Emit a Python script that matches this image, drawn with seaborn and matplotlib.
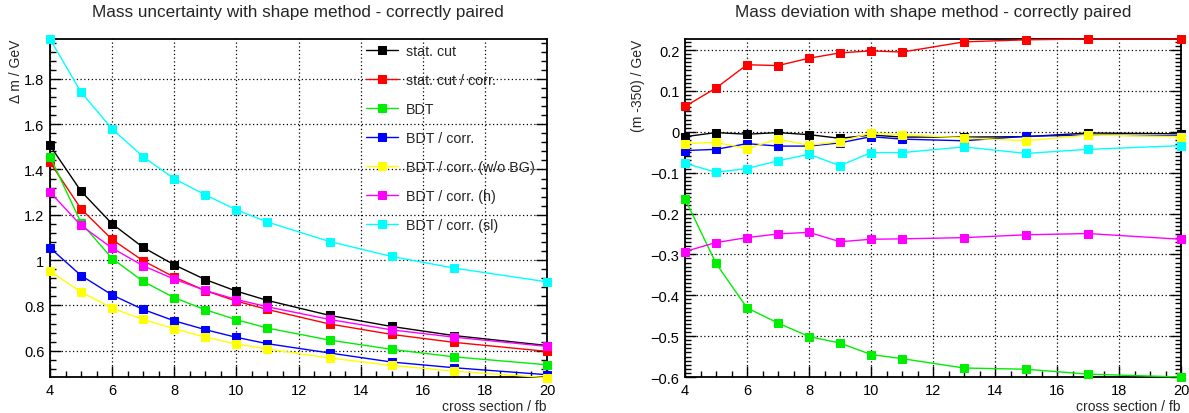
import matplotlib
matplotlib.use("Agg")
import matplotlib.pyplot as plt
import seaborn as sns
import numpy as np
from matplotlib.ticker import MultipleLocator, FuncFormatter

sns.set_style("ticks")
plt.rcParams['font.family'] = ['Liberation Sans', 'DejaVu Sans']

cross_section = [4, 5, 6, 7, 8, 9, 10, 11, 13, 15, 17, 20]

labels = ["stat. cut", "stat. cut / corr.", "BDT", "BDT / corr.",
          "BDT / corr. (w/o BG)", "BDT / corr. (h)", "BDT / corr. (sl)"]
colors = ["#000000", "#ff0000", "#00ee00", "#0000ff", "#ffff00", "#ff00ff", "#00ffff"]

# Mass uncertainty (left)
unc_statcut = [1.506, 1.304, 1.160, 1.056, 0.979, 0.914, 0.863, 0.822, 0.756, 0.707, 0.667, 0.623]
unc_statcut_corr = [1.432, 1.226, 1.091, 0.997, 0.925, 0.865, 0.819, 0.782, 0.718, 0.672, 0.637, 0.597]
unc_bdt = [1.457, 1.165, 1.007, 0.906, 0.834, 0.781, 0.737, 0.700, 0.647, 0.606, 0.573, 0.538]
unc_bdt_corr = [1.054, 0.932, 0.846, 0.782, 0.732, 0.693, 0.659, 0.631, 0.590, 0.550, 0.525, 0.494]
unc_bdt_corr_nobg = [0.951, 0.859, 0.788, 0.738, 0.697, 0.660, 0.630, 0.607, 0.568, 0.535, 0.510, 0.481]
unc_bdt_corr_h = [1.300, 1.153, 1.053, 0.975, 0.916, 0.866, 0.826, 0.794, 0.738, 0.692, 0.660, 0.619]
unc_bdt_corr_sl = [1.976, 1.741, 1.579, 1.456, 1.359, 1.288, 1.222, 1.168, 1.082, 1.016, 0.965, 0.904]

# Mass deviation (right)
dev_statcut = [-0.012, -0.002, -0.006, -0.002, -0.007, -0.016, -0.008, -0.013, -0.013, -0.012, -0.003, -0.005]
dev_statcut_corr = [0.062, 0.107, 0.164, 0.162, 0.180, 0.193, 0.198, 0.195, 0.220, 0.225, 0.227, 0.227]
dev_bdt = [-0.164, -0.322, -0.431, -0.468, -0.501, -0.517, -0.545, -0.555, -0.578, -0.581, -0.593, -0.600]
dev_bdt_corr = [-0.046, -0.043, -0.029, -0.035, -0.035, -0.027, -0.012, -0.018, -0.022, -0.011, -0.008, -0.010]
dev_bdt_corr_nobg = [-0.029, -0.026, -0.041, -0.018, -0.033, -0.024, -0.003, -0.007, -0.015, -0.022, -0.008, -0.012]
dev_bdt_corr_h = [-0.293, -0.271, -0.259, -0.250, -0.246, -0.269, -0.263, -0.262, -0.259, -0.252, -0.249, -0.263]
dev_bdt_corr_sl = [-0.077, -0.099, -0.090, -0.071, -0.055, -0.083, -0.051, -0.051, -0.037, -0.053, -0.043, -0.034]

unc_series = [unc_statcut, unc_statcut_corr, unc_bdt, unc_bdt_corr,
              unc_bdt_corr_nobg, unc_bdt_corr_h, unc_bdt_corr_sl]
dev_series = [dev_statcut, dev_statcut_corr, dev_bdt, dev_bdt_corr,
              dev_bdt_corr_nobg, dev_bdt_corr_h, dev_bdt_corr_sl]

W, H = 1189, 414
fig = plt.figure(figsize=(W / 100, H / 100), dpi=100)
axL = fig.add_axes([50 / W, 36 / H, 497 / W, 338 / H])
axR = fig.add_axes([685 / W, 36 / H, 496 / W, 338 / H])


def fmt(v, pos):
    s = f"{round(v, 6):g}"
    return s.replace("-", "\u2212")


def draw(ax, series, with_label):
    for vals, c, lab in zip(series, colors, labels):
        sns.lineplot(x=cross_section, y=vals, color=c, marker="s", markersize=6,
                     markeredgecolor=c, linewidth=1.0, label=lab if with_label else None,
                     ax=ax, legend=with_label, clip_on=False, zorder=3)
    ax.set_xlim(4, 20)
    ax.xaxis.set_major_locator(MultipleLocator(2))
    ax.xaxis.set_minor_locator(MultipleLocator(0.5))
    ax.xaxis.set_major_formatter(FuncFormatter(fmt))
    ax.yaxis.set_major_formatter(FuncFormatter(fmt))
    ax.tick_params(which="both", direction="in", right=True, top=False,
                   labelsize=10.5, colors="black", width=1.0)
    ax.tick_params(which="major", length=8, pad=4)
    ax.tick_params(which="minor", length=4)
    ax.grid(True, which="major", linestyle=(0, (1, 2)), color="black", linewidth=0.9)
    for s in ax.spines.values():
        s.set_color("black")
        s.set_linewidth(1.3)
    ax.set_xlabel("cross section / fb", loc="right", fontsize=10, labelpad=2)


draw(axL, unc_series, True)
axL.set_ylim(0.484, 1.976)
axL.yaxis.set_major_locator(MultipleLocator(0.2))
axL.yaxis.set_minor_locator(MultipleLocator(0.04))
axL.set_ylabel("\u0394 m / GeV", loc="top", fontsize=10, labelpad=1)

draw(axR, dev_series, False)
axR.set_ylim(-0.6, 0.227)
axR.yaxis.set_major_locator(MultipleLocator(0.1))
axR.yaxis.set_minor_locator(MultipleLocator(0.01))
axR.set_ylabel("(m -350) / GeV", loc="top", fontsize=10, labelpad=4)

leg = axL.legend(loc="upper left", bbox_to_anchor=(0.635, 0.985), frameon=False,
                 fontsize=10.3, labelspacing=1.05, handlelength=2.3, handletextpad=0.55,
                 borderpad=0, borderaxespad=0)

fig.text(298 / W, 1 - 12 / H, "Mass uncertainty with shape method - correctly paired",
         ha="center", va="center", fontsize=12.3)
fig.text(933 / W, 1 - 12 / H, "Mass deviation with shape method - correctly paired",
         ha="center", va="center", fontsize=12.3)

fig.savefig("out.png", dpi=100, facecolor="white")
